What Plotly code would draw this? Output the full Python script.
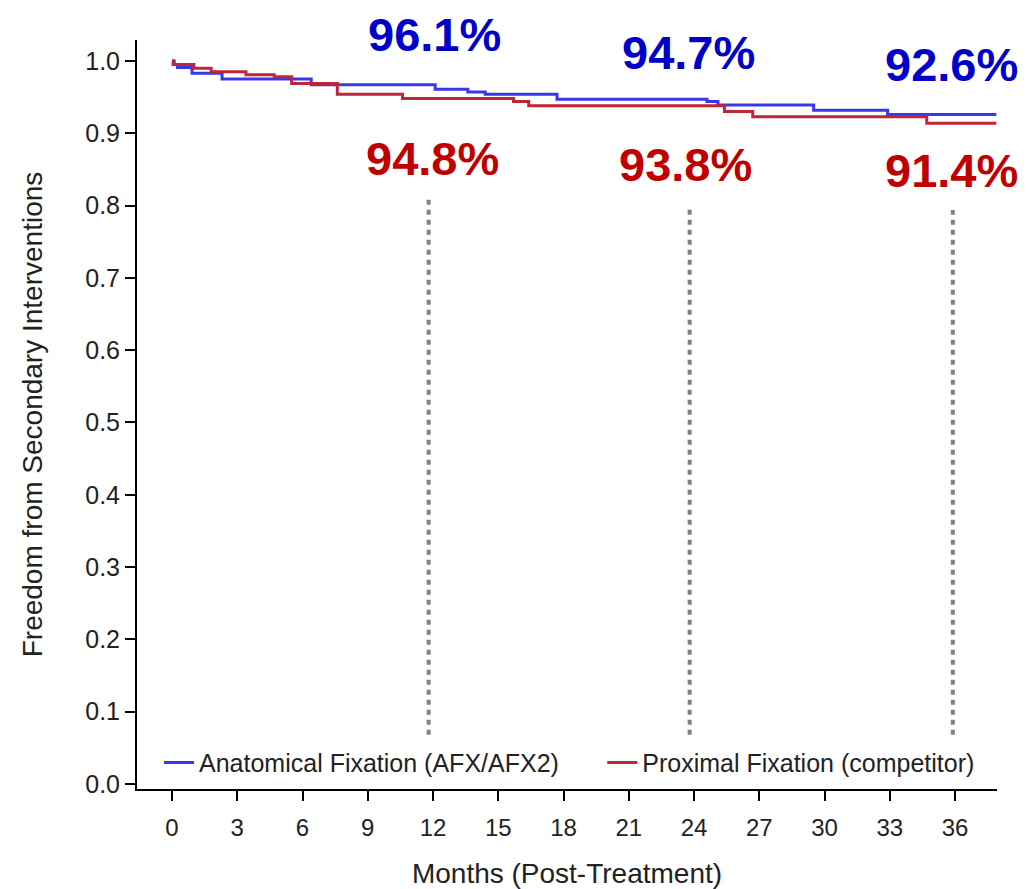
import plotly.graph_objects as go

# ---- data ----
months_ticks = [0, 3, 6, 9, 12, 15, 18, 21, 24, 27, 30, 33, 36]
y_ticks = [0.0, 0.1, 0.2, 0.3, 0.4, 0.5, 0.6, 0.7, 0.8, 0.9, 1.0]

afx_t = [0, 0.1, 0.25, 0.92, 2.3, 6.4, 12.1, 13.6, 14.4, 17.7, 24.6, 25.1, 29.5, 32.9, 37.9]
afx_s = [1.0, 0.995, 0.991, 0.983, 0.975, 0.967, 0.961, 0.957, 0.954, 0.947, 0.944, 0.939, 0.932, 0.926, 0.926]

prox_t = [0, 0.05, 1.0, 1.8, 3.4, 4.7, 5.5, 7.6, 10.6, 15.7, 16.4, 25.4, 26.7, 34.7, 37.9]
prox_s = [1.0, 0.995, 0.990, 0.985, 0.981, 0.978, 0.969, 0.954, 0.948, 0.944, 0.938, 0.930, 0.923, 0.914, 0.914]

label_months = [12, 24, 36]
afx_labels = ["96.1%", "94.7%", "92.6%"]
prox_labels = ["94.8%", "93.8%", "91.4%"]
afx_label_vals = [0.961, 0.947, 0.926]
prox_label_vals = [0.948, 0.938, 0.914]

ref_x = [11.8, 23.8, 35.9]
ref_top = [0.808, 0.798, 0.794]
ref_bottom = 0.068

BLUE_LINE = "#3838E8"
RED_LINE = "#C0263A"
BLUE_TXT = "#0000C8"
RED_TXT = "#C00000"
FONT = "Liberation Sans, Arial, sans-serif"
TXT = "#222222"

fig = go.Figure()

for xv, top in zip(ref_x, ref_top):
    fig.add_trace(go.Scatter(x=[xv, xv], y=[ref_bottom, top], mode="lines",
                             line=dict(color="#808080", width=4, dash="5px,5px"),
                             showlegend=False, hoverinfo="skip"))

fig.add_trace(go.Scatter(x=afx_t, y=afx_s, mode="lines", line_shape="hv",
                         line=dict(color=BLUE_LINE, width=3),
                         name="Anatomical Fixation (AFX/AFX2)", legend="legend"))
fig.add_trace(go.Scatter(x=prox_t, y=prox_s, mode="lines", line_shape="hv",
                         line=dict(color=RED_LINE, width=3),
                         name="Proximal Fixation (competitor)", legend="legend2"))

afx_shift = [55, 47, 50]
prox_shift = [-60, -59, -47]
afx_xs = [1, -6, -4]
prox_xs = [-1, -9, -4]
for m, txt, v, sh, xs in zip(label_months, afx_labels, afx_label_vals, afx_shift, afx_xs):
    fig.add_annotation(x=m, y=v, text=f"<b>{txt}</b>", showarrow=False,
                       yshift=sh, xshift=xs, font=dict(family=FONT, size=47, color=BLUE_TXT))
for m, txt, v, sh, xs in zip(label_months, prox_labels, prox_label_vals, prox_shift, prox_xs):
    fig.add_annotation(x=m, y=v, text=f"<b>{txt}</b>", showarrow=False,
                       yshift=sh, xshift=xs, font=dict(family=FONT, size=47, color=RED_TXT))

legend_style = dict(orientation="h", yanchor="middle", y=0.035, xanchor="left",
                    font=dict(size=25, color=TXT), bgcolor="rgba(255,255,255,0)")

fig.update_layout(
    width=1019, height=881,
    margin=dict(l=129, r=30, t=32, b=100, autoexpand=False),
    paper_bgcolor="white", plot_bgcolor="white",
    font=dict(family=FONT, color=TXT),
    showlegend=True,
    legend=dict(x=0.0256, **legend_style),
    legend2=dict(x=0.541, **legend_style),
)
fig.update_xaxes(range=[-1.61, 37.93], tickvals=months_ticks, automargin=False,
                 showgrid=False, zeroline=False, showline=True, linecolor="black", linewidth=2,
                 ticks="outside", ticklen=10, tickwidth=2, tickcolor="black", ticklabelstandoff=6,
                 tickfont=dict(size=24, color=TXT),
                 title=dict(text="Months (Post-Treatment)", font=dict(size=28, color=TXT), standoff=24))
fig.update_yaxes(range=[-0.007, 1.029], tickvals=y_ticks, tickformat=".1f", automargin=False,
                 showgrid=False, zeroline=False, showline=True, linecolor="black", linewidth=2,
                 ticks="outside", ticklen=10, tickwidth=2, tickcolor="black",
                 tickfont=dict(size=25, color=TXT),
                 title=dict(text="Freedom from Secondary Interventions", font=dict(size=28, color=TXT), standoff=34))

fig.write_html("out.html")
